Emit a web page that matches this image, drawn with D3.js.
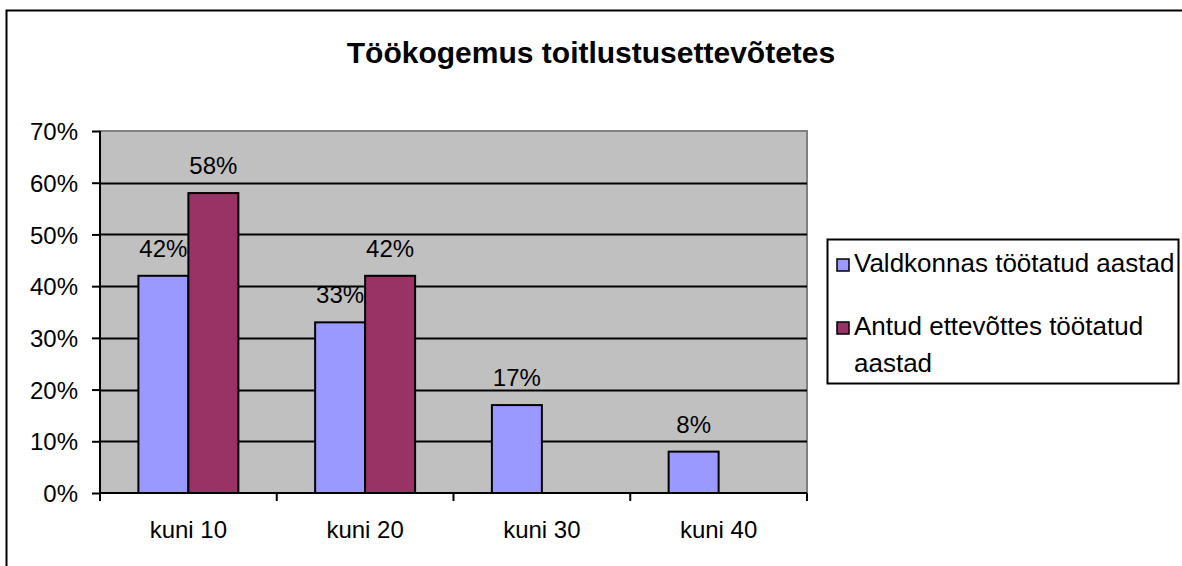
<!DOCTYPE html>
<html>
<head>
<meta charset="utf-8">
<script src="https://cdn.jsdelivr.net/npm/d3@7"></script>
<style>
  body { margin: 0; background: #fff; }
  svg text { font-family: "Liberation Sans", Arial, sans-serif; fill: #000; }
</style>
</head>
<body>
<svg id="chart" width="1182" height="566"></svg>
<script>
// data
const categories = ["kuni 10", "kuni 20", "kuni 30", "kuni 40"]
const valdkonnas = [42, 33, 17, 8]
const ettevottes = [58, 42, null, null]
const seriesNames = ["Valdkonnas töötatud aastad", "Antud ettevõttes töötatud aastad"]
const seriesColors = ["#9999ff", "#993366"]
const yTicks = [0, 10, 20, 30, 40, 50, 60, 70]
const title = "Töökogemus toitlustusettevõtetes"

let svg = d3.select("#chart")

// outer chart border (right/bottom run off the picture)
svg.append("rect")
    .attr("x", 6.5).attr("y", 10.5)
    .attr("width", 1300).attr("height", 700)
    .attr("fill", "#fff")
    .attr("stroke", "#000")
    .attr("stroke-width", 2)

let plotLeft = 100, plotRight = 807, plotTop = 131, plotBottom = 493

let x = d3.scaleBand()
    .domain(categories)
    .range([plotLeft, plotRight])
    .paddingInner(0)
    .paddingOuter(0)

// each group: gap of ~0.77 bar widths on each side
let barW = x.bandwidth() / (2 + 2 * 0.768)
let y = d3.scaleLinear().domain([0, 70]).range([plotBottom, plotTop])

// plot area
svg.append("rect")
    .attr("x", plotLeft).attr("y", plotTop)
    .attr("width", plotRight - plotLeft).attr("height", plotBottom - plotTop)
    .attr("fill", "#c0c0c0")
    .attr("stroke", "#808080")
    .attr("stroke-width", 2)

// gridlines
svg.append("g")
    .selectAll("line")
    .data(yTicks.filter(d => d > 0 && d < 70))
    .enter()
    .append("line")
    .attr("x1", plotLeft).attr("x2", plotRight)
    .attr("y1", d => Math.round(y(d)) + 0.5)
    .attr("y2", d => Math.round(y(d)) + 0.5)
    .attr("stroke", "#000")
    .attr("stroke-width", 2)

let series = [valdkonnas, ettevottes]

series.forEach(function (vals, si) {
    let bars = categories.map((c, i) => ({cat: c, value: vals[i]})).filter(d => d.value != null)
    svg.append("g")
        .selectAll("rect")
        .data(bars)
        .enter()
        .append("rect")
        .attr("x", d => x(d.cat) + (x.bandwidth() - 2 * barW) / 2 + si * barW)
        .attr("y", d => y(d.value))
        .attr("width", barW)
        .attr("height", d => plotBottom - y(d.value))
        .attr("fill", seriesColors[si])
        .attr("stroke", "#000")
        .attr("stroke-width", 2)

    svg.append("g")
        .selectAll("text")
        .data(bars)
        .enter()
        .append("text")
        .attr("x", d => x(d.cat) + (x.bandwidth() - 2 * barW) / 2 + si * barW + barW / 2)
        .attr("y", d => y(d.value) - 19)
        .attr("text-anchor", "middle")
        .style("font-size", "24px")
        .text(d => d.value + "%")
})

// y axis
let yAxis = d3.axisLeft(y)
    .tickValues(yTicks)
    .tickFormat(d => d + "%")
    .tickSize(8)
    .tickPadding(14)
let gy = svg.append("g")
    .attr("transform", "translate(" + plotLeft + ",0)")
    .call(yAxis)
gy.selectAll("text").style("font-size", "24px").attr("dy", "0.36em")
gy.selectAll("line, path").attr("stroke", "#000").attr("stroke-width", 2)
gy.select(".domain").attr("d", "M0," + plotTop + "V" + plotBottom)

// x axis
let gx = svg.append("g")
    .attr("transform", "translate(0," + plotBottom + ")")
let boundaries = categories.map(c => x(c)).concat([plotRight])
gx.append("line")
    .attr("x1", plotLeft).attr("x2", plotRight)
    .attr("y1", 0).attr("y2", 0)
    .attr("stroke", "#000").attr("stroke-width", 2)
gx.selectAll(".tick")
    .data(boundaries)
    .enter()
    .append("line")
    .attr("x1", d => d).attr("x2", d => d)
    .attr("y1", 0).attr("y2", 8)
    .attr("stroke", "#000").attr("stroke-width", 2)
gx.selectAll(".lab")
    .data(categories)
    .enter()
    .append("text")
    .attr("x", d => x(d) + x.bandwidth() / 2)
    .attr("y", 45)
    .attr("text-anchor", "middle")
    .style("font-size", "24px")
    .text(d => d)

// title
svg.append("text")
    .attr("x", 591).attr("y", 63)
    .attr("text-anchor", "middle")
    .style("font-size", "30px")
    .style("font-weight", "bold")
    .text(title)

// legend
let lg = svg.append("g")
lg.append("rect")
    .attr("x", 827.5).attr("y", 239.5)
    .attr("width", 351).attr("height", 144)
    .attr("fill", "#fff")
    .attr("stroke", "#000")
    .attr("stroke-width", 2)

let legendLines = [["Valdkonnas töötatud aastad"], ["Antud ettevõttes töötatud", "aastad"]]
let legendY = [272, 335]
legendLines.forEach(function (lines, i) {
    lg.append("rect")
        .attr("x", 837).attr("y", legendY[i] - 13)
        .attr("width", 12).attr("height", 12)
        .attr("fill", seriesColors[i])
        .attr("stroke", "#000")
        .attr("stroke-width", 1.5)
    lg.append("text")
        .attr("x", 854).attr("y", legendY[i])
        .style("font-size", "26px")
        .selectAll("tspan")
        .data(lines)
        .enter()
        .append("tspan")
        .attr("x", 854)
        .attr("dy", (d, j) => j === 0 ? 0 : 36.5)
        .text(d => d)
})
</script>
</body>
</html>
